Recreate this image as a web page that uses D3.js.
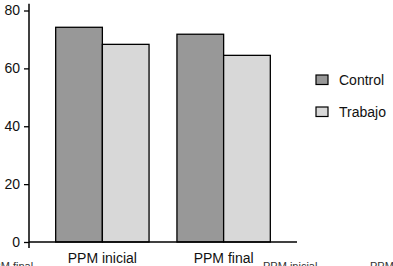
<!DOCTYPE html>
<html>
<head>
<meta charset="utf-8">
<script src="https://cdn.jsdelivr.net/npm/d3@7"></script>
<style>
  body { margin: 0; background: #fff; }
  svg { display: block; font-family: "Liberation Sans", Arial, sans-serif; }
</style>
</head>
<body>
<svg id="chart" width="393" height="266"></svg>
<script>
// data
var groups = ["PPM inicial", "PPM final"];
var series = ["Control", "Trabajo"];
var control = [74.2, 71.8];
var trabajo = [68.3, 64.5];
var yTicks = [0, 20, 40, 60, 80];
// stray labels of a chart below, only their tops show
var strayLabels = ["PPM final", "PPM inicial", "PPM"];

var colors = { Control: "#989898", Trabajo: "#d8d8d8" };

var svg = d3.select("#chart");

var y = d3.scaleLinear().domain([0, 80]).range([242, 10.5]);
var x0 = d3.scaleBand().domain(groups).range([29, 297])
  .paddingInner(0.23).paddingOuter(0.22);
var x1 = d3.scaleBand().domain(series).range([0, x0.bandwidth()]);

var rows = groups.map(function(g, i) {
  return { group: g, values: [{ s: "Control", v: control[i] }, { s: "Trabajo", v: trabajo[i] }] };
});

// bars
var g = svg.selectAll("g.grp").data(rows).enter().append("g")
  .attr("class", "grp")
  .attr("transform", function(d) { return "translate(" + x0(d.group) + ",0)"; });

g.selectAll("rect").data(function(d) { return d.values; }).enter().append("rect")
  .attr("x", function(d) { return x1(d.s); })
  .attr("y", function(d) { return y(d.v); })
  .attr("width", x1.bandwidth())
  .attr("height", function(d) { return y(0) - y(d.v); })
  .attr("fill", function(d) { return colors[d.s]; })
  .attr("stroke", "#000")
  .attr("stroke-width", 1.3);

// y axis
var yAxis = svg.append("g")
  .attr("transform", "translate(29,0)")
  .call(d3.axisLeft(y).tickValues(yTicks).tickSize(5).tickPadding(4).tickSizeOuter(0));
yAxis.select(".domain").remove();
yAxis.selectAll("line").attr("stroke", "#000").attr("stroke-width", 1.3);
yAxis.selectAll("text").attr("font-size", 14).attr("fill", "#111")
  .attr("font-family", "Liberation Sans, Arial, sans-serif");

svg.append("line")
  .attr("x1", 29).attr("x2", 29)
  .attr("y1", y(0) + 6).attr("y2", y(82.3))
  .attr("stroke", "#000").attr("stroke-width", 1.5);

// x axis
svg.append("line")
  .attr("x1", 29).attr("x2", 297)
  .attr("y1", y(0)).attr("y2", y(0))
  .attr("stroke", "#000").attr("stroke-width", 1.5);

svg.selectAll("text.xlab").data(groups).enter().append("text")
  .attr("class", "xlab")
  .attr("x", function(d) { return x0(d) + x0.bandwidth() / 2; })
  .attr("y", 262.5)
  .attr("text-anchor", "middle")
  .attr("font-size", 14)
  .attr("fill", "#111")
  .text(function(d) { return d; });

// stray text at the bottom edge
var strayX = [-14, 263, 370];
svg.selectAll("text.stray").data(strayLabels).enter().append("text")
  .attr("class", "stray")
  .attr("x", function(d, i) { return strayX[i]; })
  .attr("y", 270)
  .attr("font-size", 11)
  .attr("fill", "#333")
  .text(function(d) { return d; });

// legend
var leg = svg.selectAll("g.leg").data(series).enter().append("g")
  .attr("class", "leg")
  .attr("transform", function(d, i) { return "translate(316," + (75 + i * 32) + ")"; });
leg.append("rect")
  .attr("width", 12).attr("height", 9.5)
  .attr("fill", function(d) { return colors[d]; })
  .attr("stroke", "#000").attr("stroke-width", 1.2);
leg.append("text")
  .attr("x", 23).attr("y", 9.5)
  .attr("font-size", 14)
  .attr("fill", "#111")
  .text(function(d) { return d; });
</script>
</body>
</html>
